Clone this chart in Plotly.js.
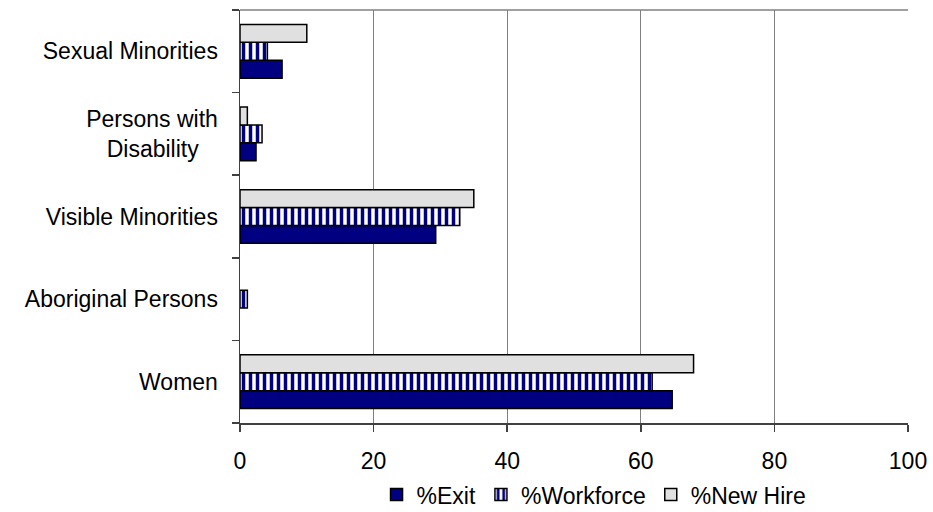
<!DOCTYPE html>
<html>
<head>
<meta charset="utf-8">
<script src="https://cdn.plot.ly/plotly-3.0.1.min.js"></script>
<style>html,body{margin:0;padding:0;background:#fff;}#chart{width:933px;height:512px;}</style>
</head>
<body>
<div id="chart"></div>
<script>
const categories = ["Women", "Aboriginal Persons", "Visible Minorities", "Persons with<br>Disability&nbsp;&nbsp;&nbsp;", "Sexual Minorities"];
const exitPct = [64.7, 0, 29.3, 2.4, 6.3];
const workforcePct = [61.7, 1.1, 32.9, 3.3, 4.1];
const newHirePct = [67.9, 0, 35.0, 1.1, 10.0];
const xTicks = [0, 20, 40, 60, 80, 100];

function outline(vals) {
  return {color: "#000000", width: vals.map(v => v === 0 ? 0 : 1.5)};
}
const traces = [
  {type: "bar", orientation: "h", name: "%Exit", y: categories, x: exitPct,
   marker: {color: "#000080", line: outline(exitPct)}},
  {type: "bar", orientation: "h", name: "%Workforce", y: categories, x: workforcePct,
   marker: {color: "#ffffff", line: outline(workforcePct),
            pattern: {shape: "|", fgcolor: "#000080", bgcolor: "#ffffff", size: 7, solidity: 0.5, fillmode: "replace"}}},
  {type: "bar", orientation: "h", name: "%New Hire", y: categories, x: newHirePct,
   marker: {color: "#e0e0e0", line: outline(newHirePct)}}
];

const layout = {
  width: 933, height: 512,
  margin: {l: 240, r: 25, t: 10, b: 89, autoexpand: false},
  paper_bgcolor: "#ffffff", plot_bgcolor: "#ffffff",
  font: {family: "Liberation Sans, Arial, sans-serif", size: 23, color: "#000000"},
  barmode: "group", bargap: 0.35, bargroupgap: 0,
  showlegend: true,
  legend: {orientation: "h", x: 0.53, xanchor: "center", yref: "container", y: 0.034, yanchor: "middle",
           font: {size: 23}, traceorder: "normal", itemwidth: 30},
  xaxis: {range: [0, 100], tickvals: xTicks, showgrid: true, gridcolor: "#808080", gridwidth: 1,
          zeroline: false, showline: true, linecolor: "#404040", linewidth: 1.5,
          ticks: "outside", ticklen: 7, tickcolor: "#404040", tickwidth: 1.5,
          ticklabelstandoff: 10, fixedrange: true},
  yaxis: {type: "category", tickson: "boundaries", showgrid: false, zeroline: false,
          showline: true, linecolor: "#404040", linewidth: 1.5,
          ticks: "outside", ticklen: 7, tickcolor: "#404040", tickwidth: 1.5, ticklabelstandoff: 16},
  shapes: [{type: "line", xref: "paper", yref: "paper", x0: 0, x1: 1, y0: 1, y1: 1,
            line: {color: "#808080", width: 1.5}}]
};
Plotly.newPlot("chart", traces, layout, {displayModeBar: false, staticPlot: true});
</script>
</body>
</html>
